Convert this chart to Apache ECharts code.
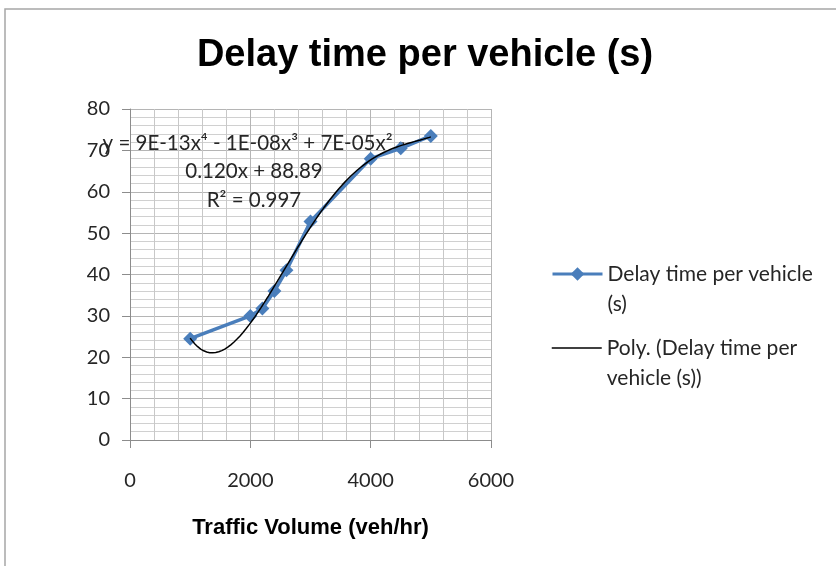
<!DOCTYPE html>
<html>
<head>
<meta charset="utf-8">
<script src="https://cdn.jsdelivr.net/npm/echarts@6/dist/echarts.min.js"></script>
<style>
  html, body { margin: 0; padding: 0; background: #ffffff; }
  #chart { width: 836px; height: 566px; }
</style>
</head>
<body>
<div id="chart"></div>
<script>
// Texts
const chartTitle = 'Delay time per vehicle (s)';
const xAxisTitle = 'Traffic Volume (veh/hr)';
const seriesName = 'Delay time per vehicle (s)';
const trendName = 'Poly. (Delay time per vehicle (s))';
// a leading blank line keeps the first text line level with the legend icon
const seriesLegendText = ' \nDelay time per vehicle\n(s)';
const trendLegendText = ' \nPoly. (Delay time per\nvehicle (s))';
const equationLines = ['y = 9E-13x\u2074 - 1E-08x\u00b3 + 7E-05x\u00b2 -', '0.120x + 88.89', 'R\u00b2 = 0.997'];

// Observations
const trafficVolume = [1000, 2000, 2200, 2400, 2600, 3000, 4000, 4500, 5000];
const delayTime = [24.5, 30, 31.8, 36, 41, 52.8, 68, 70.5, 73.5];

// Axis scales
const xTicks = [0, 2000, 4000, 6000];
const yTicks = [0, 10, 20, 30, 40, 50, 60, 70, 80];

// Fourth-order least-squares trendline through the observations
function polyFit(xs, ys, order) {
  const n = order + 1;
  const s = 1000; // scale x for numerical stability
  const A = [], b = [];
  for (let i = 0; i < n; i++) {
    A.push(new Array(n).fill(0));
    b.push(0);
  }
  xs.forEach((xv, k) => {
    const u = xv / s;
    for (let i = 0; i < n; i++) {
      for (let j = 0; j < n; j++) A[i][j] += Math.pow(u, i + j);
      b[i] += ys[k] * Math.pow(u, i);
    }
  });
  for (let c = 0; c < n; c++) {
    let p = c;
    for (let r = c + 1; r < n; r++) if (Math.abs(A[r][c]) > Math.abs(A[p][c])) p = r;
    [A[c], A[p]] = [A[p], A[c]];
    [b[c], b[p]] = [b[p], b[c]];
    for (let r = c + 1; r < n; r++) {
      const f = A[r][c] / A[c][c];
      for (let k = c; k < n; k++) A[r][k] -= f * A[c][k];
      b[r] -= f * b[c];
    }
  }
  const coef = new Array(n).fill(0);
  for (let r = n - 1; r >= 0; r--) {
    let acc = b[r];
    for (let k = r + 1; k < n; k++) acc -= A[r][k] * coef[k];
    coef[r] = acc / A[r][r];
  }
  return (xv) => coef.reduce((sum, c, i) => sum + c * Math.pow(xv / s, i), 0);
}

const trend = polyFit(trafficVolume, delayTime, 4);
const xMinObs = Math.min(...trafficVolume);
const xMaxObs = Math.max(...trafficVolume);
const trendData = [];
for (let i = 0; i <= 160; i++) {
  const xv = xMinObs + (xMaxObs - xMinObs) * i / 160;
  trendData.push([xv, trend(xv)]);
}

const bodyFont = 'Lato, "Open Sans", sans-serif';
const headFont = '"Liberation Sans", Arial, sans-serif';
const textColor = '#262626';

const chart = echarts.init(document.getElementById('chart'), null, { renderer: 'canvas' });

const legendText = { fontFamily: bodyFont, fontSize: 21, color: textColor, lineHeight: 30 };

chart.setOption({
  backgroundColor: '#ffffff',
  animation: false,
  grid: { left: 130, right: 345, top: 109, bottom: 126, containLabel: false },
  xAxis: {
    type: 'value',
    min: xTicks[0],
    max: xTicks[xTicks.length - 1],
    interval: xTicks[1] - xTicks[0],
    name: xAxisTitle,
    nameLocation: 'middle',
    nameGap: 77,
    nameTextStyle: { fontFamily: headFont, fontWeight: 'bold', fontSize: 22, color: '#000000' },
    axisLine: { show: true, onZero: false, lineStyle: { color: '#8c8c8c', width: 1 } },
    axisTick: { show: true, inside: false, length: 8, lineStyle: { color: '#8c8c8c' } },
    axisLabel: { margin: 31, fontFamily: bodyFont, fontSize: 20, color: textColor, formatter: (v) => String(v) },
    splitLine: { show: true, lineStyle: { color: '#b5b5b5', width: 1 } },
    minorTick: { show: false, splitNumber: 5 },
    minorSplitLine: { show: true, lineStyle: { color: '#c8c8c8', width: 1 } }
  },
  yAxis: {
    type: 'value',
    min: yTicks[0],
    max: yTicks[yTicks.length - 1],
    interval: yTicks[1] - yTicks[0],
    axisLine: { show: true, lineStyle: { color: '#8c8c8c', width: 1 } },
    axisTick: { show: true, inside: false, length: 8, lineStyle: { color: '#8c8c8c' } },
    axisLabel: { margin: 20, fontFamily: bodyFont, fontSize: 20, color: textColor },
    splitLine: { show: true, lineStyle: { color: '#b5b5b5', width: 1 } },
    minorTick: { show: false, splitNumber: 5 },
    minorSplitLine: { show: true, lineStyle: { color: '#d0d0d0', width: 1 } }
  },
  legend: [
    {
      data: [seriesName],
      orient: 'vertical',
      left: 551,
      top: 229,
      padding: 0,
      itemWidth: 50,
      itemHeight: 17,
      formatter: () => seriesLegendText,
      lineStyle: { width: 3 },
      textStyle: legendText
    },
    {
      data: [trendName],
      orient: 'vertical',
      left: 551,
      top: 303,
      padding: 0,
      itemWidth: 50,
      itemHeight: 17,
      formatter: () => trendLegendText,
      itemStyle: { opacity: 0 },
      lineStyle: { width: 1.5, opacity: 1 },
      textStyle: legendText
    }
  ],
  graphic: [
    {
      type: 'rect',
      silent: true,
      z: 0,
      shape: { x: 5, y: 9, width: 900, height: 600 },
      style: { fill: 'none', stroke: '#a6a6a6', lineWidth: 1.5 }
    },
    {
      type: 'text',
      silent: true,
      z: 1,
      x: 425,
      y: 37,
      style: {
        text: chartTitle,
        fill: '#000000',
        font: 'bold 38px ' + headFont,
        textAlign: 'center',
        textVerticalAlign: 'top',
        verticalAlign: 'top'
      }
    },
    ...equationLines.map((t, i) => ({
      type: 'text',
      silent: true,
      z: 1,
      x: 254,
      y: 143 + i * 28.5,
      style: {
        text: t,
        fill: textColor,
        font: '20.5px ' + bodyFont,
        textAlign: 'center',
        textVerticalAlign: 'middle',
        verticalAlign: 'middle'
      }
    }))
  ],
  series: [
    {
      name: seriesName,
      type: 'line',
      data: trafficVolume.map((xv, i) => [xv, delayTime[i]]),
      symbol: 'diamond',
      symbolSize: 14,
      itemStyle: { color: '#4a7ebb' },
      lineStyle: { color: '#4a7ebb', width: 3.5 },
      z: 3
    },
    {
      name: trendName,
      type: 'line',
      data: trendData,
      symbol: 'none',
      showSymbol: false,
      smooth: false,
      itemStyle: { color: '#000000' },
      lineStyle: { color: '#000000', width: 1.5 },
      z: 4
    }
  ]
});
</script>
</body>
</html>
